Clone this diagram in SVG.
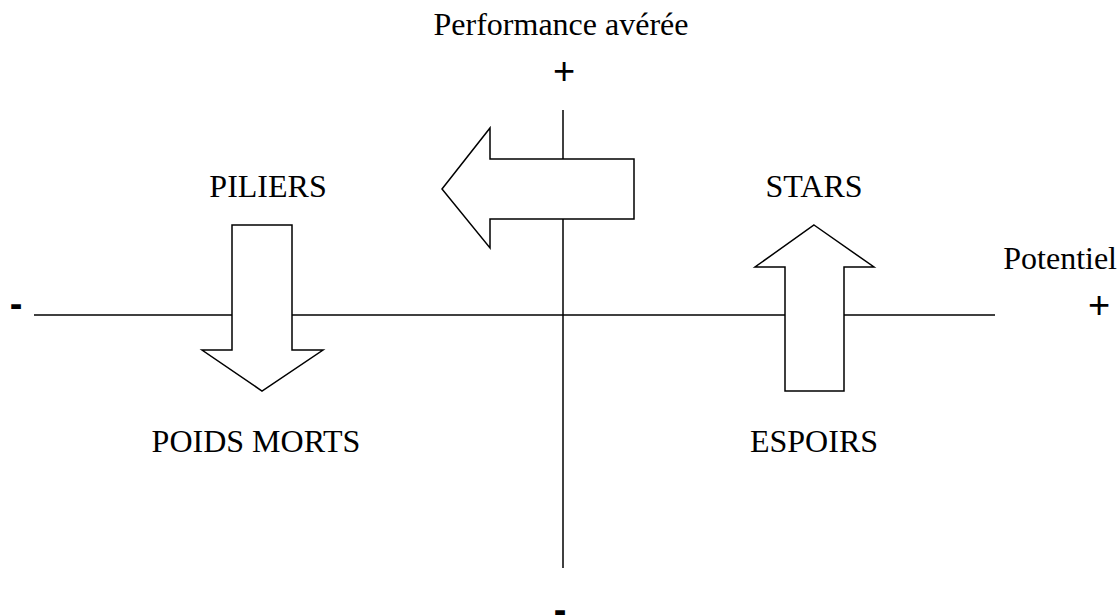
<svg xmlns="http://www.w3.org/2000/svg" width="1117" height="616" viewBox="0 0 1117 616">
<style>
.ax{stroke:#000;stroke-width:1.5;fill:none}
.ar{stroke:#000;stroke-width:1.5;fill:#fff;stroke-linejoin:miter}
.t{font-family:"Liberation Serif","Times New Roman",serif;font-size:32px;fill:#000}
.s{font-family:"Liberation Sans",Arial,sans-serif;font-size:38px;fill:#000}
</style>
<rect width="1117" height="616" fill="#fff"/>
<g id="connectors">
<line class="ax" x1="34" y1="315" x2="995" y2="315"/>
<line class="ax" x1="563" y1="110" x2="563" y2="568"/>
</g>
<g id="arrow-left"><polygon class="ar" points="442,189 490,128 490,159 634,159 634,219 490,219 490,248"/></g>
<g id="arrow-down"><polygon class="ar" points="232,225 292,225 292,350 323,350 262,391 202,350 232,350"/></g>
<g id="arrow-up"><polygon class="ar" points="814,225 874,267 844,267 844,391 785,391 785,267 755,267"/></g>
<g id="label-performance"><text class="t" x="561" y="35" text-anchor="middle">Performance avérée</text></g>
<g id="label-plus-top"><text class="s" x="564" y="84" text-anchor="middle">+</text></g>
<g id="label-piliers"><text class="t" x="268" y="197" text-anchor="middle">PILIERS</text></g>
<g id="label-stars"><text class="t" x="814" y="197" text-anchor="middle">STARS</text></g>
<g id="label-poids"><text class="t" x="256" y="452" text-anchor="middle">POIDS MORTS</text></g>
<g id="label-espoirs"><text class="t" x="814" y="452" text-anchor="middle">ESPOIRS</text></g>
<g id="label-potentiel"><text class="t" x="1117" y="269" text-anchor="end">Potentiel</text></g>
<g id="label-plus-right"><text class="s" x="1099" y="318" text-anchor="middle">+</text></g>
<g id="label-minus-left"><text class="s" x="16" y="317" text-anchor="middle" font-weight="bold">-</text></g>
<g id="label-minus-bottom"><text class="s" x="560" y="623" text-anchor="middle" font-weight="bold">-</text></g>
</svg>
